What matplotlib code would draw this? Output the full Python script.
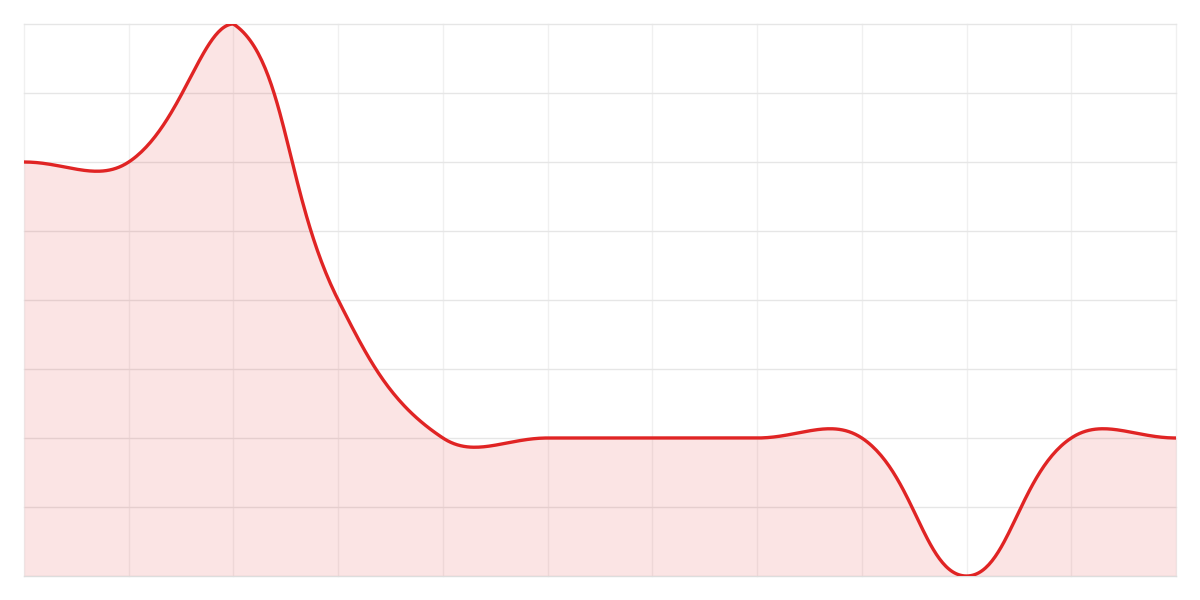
import numpy as np
import matplotlib
matplotlib.use("Agg")
import matplotlib.pyplot as plt

# Data
x_idx = list(range(12))
values = [6, 6, 8, 4, 2, 2, 2, 2, 2, 0, 2, 2]
y_min, y_max = 0, 8

W, H = 1200, 600
L, R, T, B = 24, 1176, 24, 576
fig = plt.figure(figsize=(W / 100, H / 100), dpi=100)
ax = fig.add_axes([L / W, 1 - B / H, (R - L) / W, (B - T) / H])
ax.set_xlim(0, len(values) - 1)
ax.set_ylim(y_min, y_max)

# pixel scales for Chart.js-like spline (tension 0.4)
sx = (R - L) / (len(values) - 1)
sy = (B - T) / (y_max - y_min)
px = np.array(x_idx, float) * sx
py = np.array(values, float) * sy
tension = 0.4
n = len(px)
cp_prev = []
cp_next = []
for i in range(n):
    p0 = (px[max(i - 1, 0)], py[max(i - 1, 0)])
    p1 = (px[i], py[i])
    p2 = (px[min(i + 1, n - 1)], py[min(i + 1, n - 1)])
    d01 = np.hypot(p1[0] - p0[0], p1[1] - p0[1])
    d12 = np.hypot(p2[0] - p1[0], p2[1] - p1[1])
    s01 = d01 / (d01 + d12) if d01 + d12 else 0
    s12 = d12 / (d01 + d12) if d01 + d12 else 0
    fa = tension * s01
    fb = tension * s12
    c1 = [p1[0] - fa * (p2[0] - p0[0]), p1[1] - fa * (p2[1] - p0[1])]
    c2 = [p1[0] + fb * (p2[0] - p0[0]), p1[1] + fb * (p2[1] - p0[1])]
    for c in (c1, c2):
        c[0] = min(max(c[0], 0), px[-1])
        c[1] = min(max(c[1], y_min * sy), y_max * sy)
    cp_prev.append(c1)
    cp_next.append(c2)

xs, ys = [], []
t = np.linspace(0, 1, 60)
for i in range(n - 1):
    P0 = np.array([px[i], py[i]])
    P1 = np.array(cp_next[i])
    P2 = np.array(cp_prev[i + 1])
    P3 = np.array([px[i + 1], py[i + 1]])
    pts = ((1 - t) ** 3)[:, None] * P0 + (3 * (1 - t) ** 2 * t)[:, None] * P1 \
        + (3 * (1 - t) * t ** 2)[:, None] * P2 + (t ** 3)[:, None] * P3
    xs.extend(pts[:, 0] / sx)
    ys.extend(pts[:, 1] / sy)

line_color = "#e02424"
ax.fill_between(xs, ys, y_min, color=line_color, alpha=0.12, linewidth=0, zorder=1)
ax.plot(xs, ys, color=line_color, linewidth=2.4, solid_capstyle="round", zorder=3)

ax.set_xticks(x_idx)
ax.set_yticks(range(y_min, y_max + 1))
ax.grid(axis="y", color="#e6e6e6", linewidth=1, zorder=0)
ax.grid(axis="x", color="#f0f0f0", linewidth=1, zorder=0)
for gl in ax.get_xgridlines() + ax.get_ygridlines():
    gl.set_clip_on(False)
ax.tick_params(length=0, labelbottom=False, labelleft=False)
for s in ["top", "right", "left"]:
    ax.spines[s].set_visible(False)
ax.spines["bottom"].set_color("#dddddd")
ax.set_axisbelow(True)

fig.savefig("out.png", dpi=100)
